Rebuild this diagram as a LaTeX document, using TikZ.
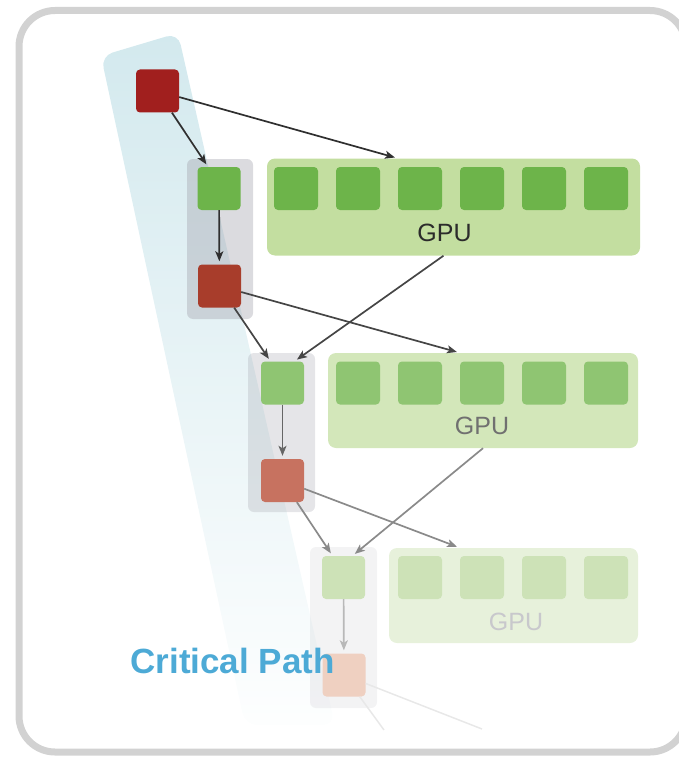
\documentclass[tikz,border=0pt]{standalone}
\usepackage{fontspec}
\newfontfamily\labelfont{Liberation Sans}
\usepackage{tikz}
\usetikzlibrary{arrows.meta}
\usepackage{xcolor}
\definecolor{framegray}{HTML}{D2D2D2}
\definecolor{bandblue}{HTML}{D3E9EE}
\definecolor{pathblue}{HTML}{4DAAD6}
\definecolor{colgray}{HTML}{A0A0AA}
\definecolor{cpuA}{HTML}{A11F1E}
\definecolor{cpuB}{HTML}{A83D2B}
\definecolor{cpuC}{HTML}{C77260}
\definecolor{cpuD}{HTML}{EFD0C1}
\definecolor{gpuA}{HTML}{6DB44A}
\definecolor{gpuB}{HTML}{8FC572}
\definecolor{gpuC}{HTML}{CDE2B7}
\definecolor{barA}{HTML}{C3DEA0}
\definecolor{barB}{HTML}{D3E7BA}
\definecolor{barC}{HTML}{E7F1DB}
\definecolor{textA}{HTML}{2B2B2B}
\definecolor{textB}{HTML}{707070}
\definecolor{textC}{HTML}{C8C8CC}
\definecolor{arrowA}{HTML}{2F2F2F}
\definecolor{arrowB}{HTML}{454545}
\definecolor{arrowC}{HTML}{666666}
\definecolor{arrowD}{HTML}{8A8A8A}
\definecolor{arrowE}{HTML}{B8B8B8}
\definecolor{arrowF}{HTML}{E8E8E8}

\begin{document}
\begin{tikzpicture}[x=1pt, y=-1pt, >={Stealth[length=10pt,width=8pt,inset=2.5pt]},
    task/.style={minimum size=43pt, inner sep=0pt, rounded corners=4pt},
    core/.style={task, minimum width=44pt},
    bar/.style={rounded corners=8pt, inner sep=0pt},
    column/.style={rounded corners=6pt, inner sep=0pt, fill=colgray},
    link/.style={->, line width=1.7pt, shorten >=3pt},
    gpulabel/.style={font=\labelfont\fontsize{25}{30}\selectfont, anchor=base, inner sep=0pt},
    pathlabel/.style={font=\labelfont\bfseries\fontsize{35}{40}\selectfont, text=pathblue, anchor=base, inner sep=0pt}]
  \useasboundingbox (0,0) rectangle (679,757);
  % outer frame, cut at the right edge
  \begin{scope}
    \clip (0,0) rectangle (679,757);
    \draw[framegray, line width=7pt, rounded corners=36pt] (19,10.5) rectangle (686,752);
  \end{scope}
  % critical path band
  \shade[top color=bandblue, middle color=bandblue!75, bottom color=white!96!bandblue, rounded corners=12pt]
    (101,56) -- (178,33) -- (335,725) -- (245,725) -- cycle;

  % columns of one step each
  \node[column, fill opacity=.38, minimum width=66pt, minimum height=160pt] (col1) at (220,239) {};
  \node[column, fill opacity=.27, minimum width=67pt, minimum height=159pt] (col2) at (281.5,432.5) {};
  \node[column, fill opacity=.13, minimum width=67pt, minimum height=161pt] (col3) at (343.5,627.5) {};

  % GPU bars with their cores
  \node[bar, fill=barA, minimum width=373pt, minimum height=97pt] (bar1) at (453.5,207) {};
  \node[bar, fill=barB, minimum width=310pt, minimum height=95pt] (bar2) at (483,400.5) {};
  \node[bar, fill=barC, minimum width=249pt, minimum height=95pt] (bar3) at (513.5,595.5) {};
  \foreach \cx [count=\j] in {296,358,...,606}
    \node[core, fill=gpuA] (c1\j) at (\cx,188.5) {};
  \foreach \cx [count=\j] in {358,420,...,606}
    \node[core, fill=gpuB] (c2\j) at (\cx,383) {};
  \foreach \cx [count=\j] in {420,482,...,606}
    \node[core, fill=gpuC] (c3\j) at (\cx,577.5) {};
  \node[gpulabel, text=textA] (lab1) at (444.5,241) {GPU};
  \node[gpulabel, text=textB] (lab2) at (482,434) {GPU};
  \node[gpulabel, text=textC] (lab3) at (516,630) {GPU};

  % tasks on the path
  \node[task, fill=cpuA] (cpu0) at (157.5,91) {};
  \node[task, fill=gpuA] (gpu1) at (219,188.5) {};
  \node[task, fill=cpuB] (cpu1) at (219.5,286) {};
  \node[task, fill=gpuB] (gpu2) at (282.5,383) {};
  \node[task, fill=cpuC] (cpu2) at (282.5,480.5) {};
  \node[task, fill=gpuC] (gpu3) at (343.5,577.5) {};
  \node[task, fill=cpuD] (cpu3) at (344,675) {};

  % dependencies
  \draw[link, arrowA] (cpu0) -- ([xshift=-11pt]gpu1.north);
  \draw[link, arrowA] (cpu0) -- (c13.north west |- bar1.north);
  \draw[link, arrowA] (gpu1) -- (cpu1);
  \draw[link, arrowB] (cpu1) -- ([xshift=-12pt]gpu2.north);
  \draw[link, arrowB] (cpu1) -- (c23.north west |- bar2.north);
  \draw[link, arrowB] ([xshift=-10pt]bar1.south) -- ([xshift=12pt]gpu2.north);
  \draw[link, arrowC] (gpu2) -- (cpu2);
  \draw[link, arrowD] (cpu2) -- ([xshift=-11pt]gpu3.north);
  \draw[link, arrowD] (cpu2) -- (c32.north west |- bar3.north);
  \draw[link, arrowD] (bar2.south) -- ([xshift=9pt]gpu3.north);
  \draw[link, arrowE] (gpu3) -- (cpu3);
  \coordinate (out1) at (384,730);
  \coordinate (out2) at (482,729);
  \draw[line width=1.5pt, arrowF] (cpu3) -- (out1);
  \draw[line width=1.5pt, arrowF] (cpu3) -- (out2);

  \node[pathlabel] (cpl) at (232.5,673) {Critical Path};
\end{tikzpicture}
\end{document}
